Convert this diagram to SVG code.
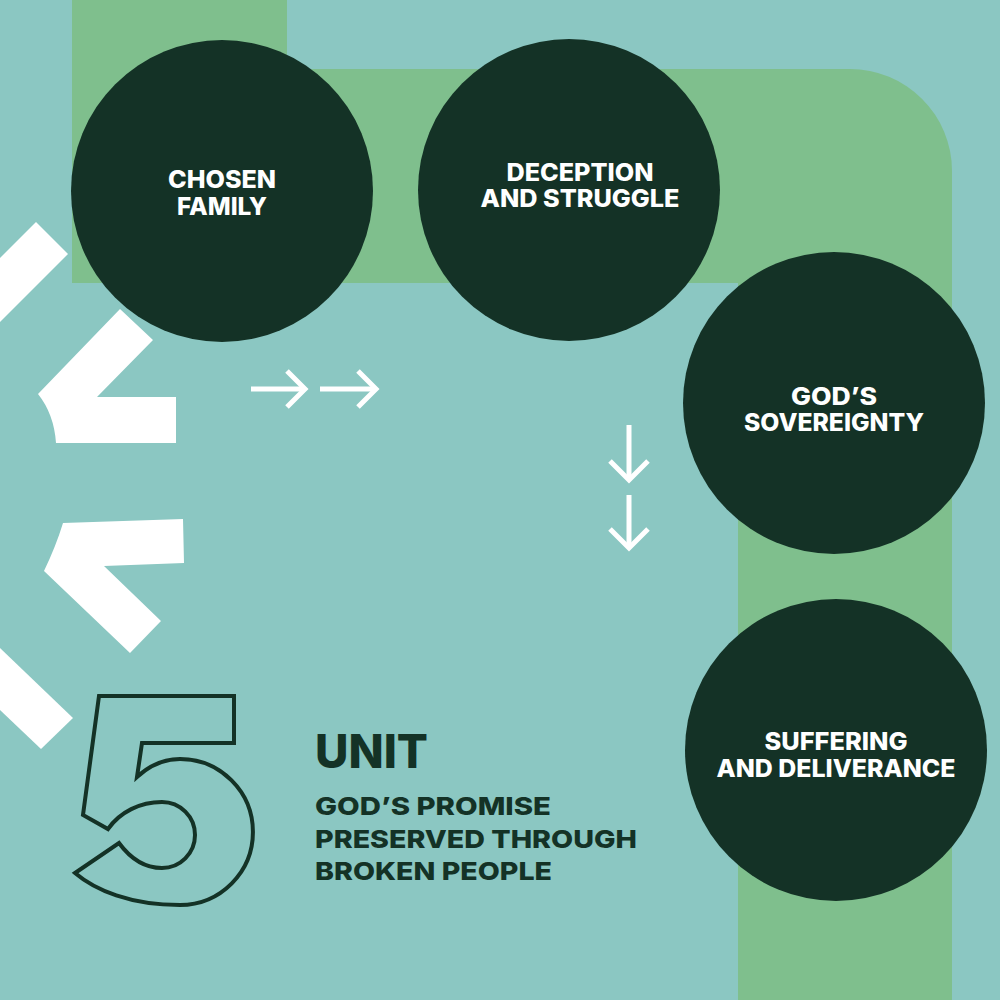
<svg xmlns="http://www.w3.org/2000/svg" width="1000" height="1000" viewBox="0 0 1000 1000">
  <style>
    .node { fill: #143226; }
    .label { fill: #ffffff; font-family: Inter, Lato, "Liberation Sans", sans-serif; font-weight: 800; font-size: 24px; text-anchor: middle; }
    .dark { fill: #143226; font-family: Inter, Lato, "Liberation Sans", sans-serif; font-weight: 800; }
    .arrow { fill: none; stroke: #ffffff; stroke-width: 5; stroke-linecap: butt; stroke-linejoin: miter; }
    .deco { fill: #ffffff; }
  </style>
  <rect width="1000" height="1000" fill="#8bc7c2"/>
  <path id="band" d="M72,0 H287 V69 H850 A102,102 0 0 1 952,171 V1000 H738 V283 H72 Z" fill="#7fbf8d"/>

  <g id="chevrons">
    <polygon class="deco" points="0,258 36,222 68,254 0,322"/>
    <path class="deco" d="M120,309 L153,340 L97,397 H176 V443 H56 Q54,414 38,394 Z"/>
    <path class="deco" d="M63,523 L183,519 L184,563 L104,566 L161,621 L130,653 L44,571 Q56,546 63,523 Z"/>
    <polygon class="deco" points="0,648 73,718 41,749 0,710"/>
  </g>

  <g id="connectors">
    <g id="arrow-right-1"><line class="arrow" x1="251" y1="389" x2="304" y2="389"/><polyline class="arrow" points="287,371 305,389 287,407"/></g>
    <g id="arrow-right-2"><line class="arrow" x1="320" y1="389" x2="375" y2="389"/><polyline class="arrow" points="358,371 376,389 358,407"/></g>
    <g id="arrow-down-1"><line class="arrow" x1="629" y1="425" x2="629" y2="478"/><polyline class="arrow" points="610,461 629,480 648,461"/></g>
    <g id="arrow-down-2"><line class="arrow" x1="629" y1="495" x2="629" y2="546"/><polyline class="arrow" points="610,529 629,548 648,529"/></g>
  </g>

  <g id="node-chosen-family">
    <circle class="node" cx="222" cy="191" r="151"/>
    <text class="label"><tspan x="222" y="188" textLength="108" lengthAdjust="spacingAndGlyphs">CHOSEN</tspan><tspan x="222" y="215" textLength="90" lengthAdjust="spacingAndGlyphs">FAMILY</tspan></text>
  </g>
  <g id="node-deception">
    <circle class="node" cx="569" cy="190" r="151"/>
    <text class="label"><tspan x="580" y="181" textLength="147" lengthAdjust="spacingAndGlyphs">DECEPTION</tspan><tspan x="580" y="207" textLength="199" lengthAdjust="spacingAndGlyphs">AND STRUGGLE</tspan></text>
  </g>
  <g id="node-sovereignty">
    <circle class="node" cx="834" cy="403" r="151"/>
    <text class="label"><tspan x="834" y="405" textLength="86" lengthAdjust="spacingAndGlyphs">GOD’S</tspan><tspan x="834" y="431" textLength="180" lengthAdjust="spacingAndGlyphs">SOVEREIGNTY</tspan></text>
  </g>
  <g id="node-suffering">
    <circle class="node" cx="836" cy="750" r="151"/>
    <text class="label"><tspan x="836" y="750" textLength="143" lengthAdjust="spacingAndGlyphs">SUFFERING</tspan><tspan x="836" y="777" textLength="239" lengthAdjust="spacingAndGlyphs">AND DELIVERANCE</tspan></text>
  </g>

  <g id="unit-title">
    <path d="M99,696 H234 V743 H142 L137,777 C150,765 165,759 180,759 A73,73 0 0 1 180,905 C130,905 95,890 75,873 L119,843 C130,858 145,868 162,868 A33,33 0 0 0 162,802 C140,802 120,812 108,829 L83,815 Z" fill="none" stroke="#143226" stroke-width="4" stroke-linejoin="miter"/>
    <text class="dark" x="315" y="768" font-size="46" textLength="113" lengthAdjust="spacingAndGlyphs">UNIT</text>
    <text class="dark" font-size="25"><tspan x="315" y="815" textLength="236" lengthAdjust="spacingAndGlyphs">GOD’S PROMISE</tspan><tspan x="315" y="848" textLength="322" lengthAdjust="spacingAndGlyphs">PRESERVED THROUGH</tspan><tspan x="315" y="880" textLength="237" lengthAdjust="spacingAndGlyphs">BROKEN PEOPLE</tspan></text>
  </g>
</svg>
